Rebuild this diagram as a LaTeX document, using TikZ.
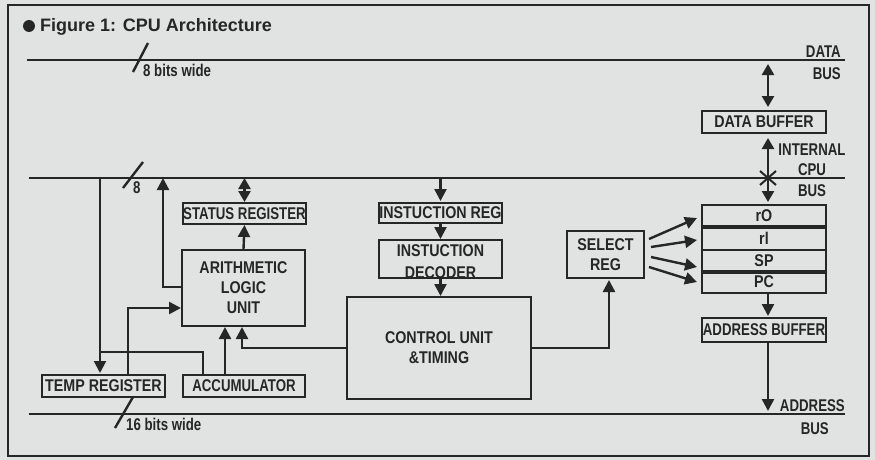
\documentclass[tikz,border=0pt]{standalone}
\usepackage{fontspec}
\setmainfont{Liberation Sans}
\newfontfamily\condfont[FakeStretch=0.84]{Liberation Sans}
\newfontfamily\tightfont[FakeStretch=0.78]{Liberation Sans}
\usetikzlibrary{arrows.meta,calc}
\definecolor{bg}{HTML}{E0E3E1}
\definecolor{ink}{HTML}{262626}
\tikzset{
  box/.style={draw=ink, line width=2pt, inner sep=0pt, text=ink, font=\condfont\bfseries\fontsize{17}{20}\selectfont, align=center},
  tightbox/.style={box, font=\tightfont\bfseries\fontsize{17}{20}\selectfont},
  bus/.style={draw=ink, line width=2pt},
  wire/.style={draw=ink, line width=2.4pt},
  arr/.style={wire, -{Triangle[length=12pt,width=12pt]}},
  darr/.style={wire, {Triangle[length=11pt,width=12pt]}-{Triangle[length=11pt,width=12pt]}},
  buslabel/.style={text=ink, font=\tightfont\bfseries\fontsize{17}{20}\selectfont, inner sep=0pt},
  widthlabel/.style={text=ink, font=\tightfont\bfseries\fontsize{17}{20}\selectfont, inner sep=0pt, anchor=base west},
}
\begin{document}
\begin{tikzpicture}[x=1pt,y=-1pt]
\fill[bg] (0,0) rectangle (875,460);
\useasboundingbox (0,0) rectangle (875,460);
\draw[ink, line width=2.5pt] (8,5) rectangle (869,456);
\fill[ink] (29,26) circle (6);
\node[anchor=base west, inner sep=0, text=ink, font=\bfseries\fontsize{18}{20}\selectfont] (title) at (40,32) {Figure 1: CPU Architecture};

% buses
\coordinate (dbL) at (27,60); \coordinate (dbR) at (845,60);
\coordinate (ibL) at (29,177.5); \coordinate (ibR) at (845,177.5);
\coordinate (abL) at (29,414); \coordinate (abR) at (845,414);
\draw[bus] (dbL) -- (dbR);
\draw[bus] (ibL) -- (ibR);
\draw[bus] (abL) -- (abR);

% width slashes
\coordinate (s1a) at (148,43); \coordinate (s1b) at (133,72);
\coordinate (s2a) at (143,162); \coordinate (s2b) at (123,188);
\coordinate (s3a) at (133,397); \coordinate (s3b) at (115,428);
\draw[wire] (s1a) -- (s1b);
\draw[wire] (s2a) -- (s2b);
\draw[wire] (s3a) -- (s3b);
\node[widthlabel] (w1) at (143,77) {8 bits wide};
\node[widthlabel] (w2) at (133,193) {8};
\node[widthlabel] (w3) at (126,430) {16 bits wide};

% bus labels
\node[buslabel, anchor=base east] (dataL) at (841,57) {DATA};
\node[buslabel, anchor=base east] (dataB) at (841,80) {BUS};
\node[buslabel, anchor=base] (intI) at (812,155) {INTERNAL};
\node[buslabel, anchor=base] (intC) at (812,175) {CPU};
\node[buslabel, anchor=base] (intB) at (812,196) {BUS};
\node[buslabel, anchor=base east] (addrA) at (845,411) {ADDRESS};
\node[buslabel, anchor=base east] (addrB) at (829,434) {BUS};

% blocks
\node[box, minimum width=124, minimum height=22] (databuf) at (764,122) {DATA BUFFER};
\node[box, minimum width=124, minimum height=21] (r0) at (764,215.5) {rO};
\node[box, minimum width=124, minimum height=24] (r1) at (764,238) {rl};
\node[box, minimum width=124, minimum height=21] (sp) at (764,260.5) {SP};
\node[box, minimum width=124, minimum height=22] (pc) at (764,282) {PC};
\draw[ink, line width=4pt] (r0.south west) -- (r0.south east);
\draw[ink, line width=4pt] (sp.south west) -- (sp.south east);
\node[tightbox, minimum width=124, minimum height=24] (addrbuf) at (764,330) {ADDRESS BUFFER};
\node[box, minimum width=77, minimum height=47] (selreg) at (605.5,254.5) {SELECT\\REG};
\node[box, minimum width=123, minimum height=20] (instreg) at (440.5,213) {INSTUCTION REG};
\node[text=ink, inner sep=0pt, align=center, font=\condfont\bfseries\fontsize{17}{22}\selectfont] (instdect) at (440.5,262) {INSTUCTION\\DECODER};
\node[box, minimum width=123, minimum height=38] (instdec) at (440.5,259) {};
\node[tightbox, minimum width=123, minimum height=21] (status) at (244.5,213.5) {STATUS REGISTER};
\node[box, minimum width=123, minimum height=76] (alu) at (243.5,288) {ARITHMETIC\\LOGIC\\UNIT};
\node[box, minimum width=123, minimum height=22] (temp) at (103.5,386) {TEMP REGISTER};
\node[tightbox, minimum width=122, minimum height=22] (acc) at (244,386) {ACCUMULATOR};
\node[box, minimum width=184, minimum height=102] (ctrl) at (439,348) {CONTROL UNIT\\\&TIMING};

% data path right
\coordinate (vx) at (768,0);
\coordinate (dbtap) at (768,61);
\draw[darr, shorten <=3pt, shorten >=3pt] (dbtap) -- (databuf.north -| vx);
\draw[darr, shorten <=4pt, shorten >=2pt] (databuf.south -| vx) -- (r0.north -| vx);
\coordinate (xc) at (768,178);
\draw[ink, line width=2pt] ($(xc)+(-8,-7)$) -- ($(xc)+(8,7)$);
\draw[ink, line width=2pt] ($(xc)+(-8,7)$) -- ($(xc)+(8,-7)$);
\draw[arr, shorten >=1pt] (pc.south -| vx) -- (addrbuf.north -| vx);
\coordinate (abtap) at (768,411);
\draw[arr] (addrbuf.south -| vx) -- (abtap);

% select reg arrows
\draw[arr] ($(selreg.east)+(4,-15.5)$) -- ($(r0.west)+(-4,2.5)$);
\draw[arr] ($(selreg.east)+(6,-7.5)$) -- ($(r1.west)+(-4,2)$);
\draw[arr] ($(selreg.east)+(6,2.5)$) -- ($(sp.west)+(-4,6.5)$);
\draw[arr] ($(selreg.east)+(4,12.5)$) -- ($(pc.west)+(-4,0)$);

% instruction path
\coordinate (ibI) at (440.5,178);
\draw[arr, shorten >=1pt] (ibI) -- (instreg.north);
\draw[arr] (instreg.south) -- (instdec.north);
\draw[arr] (instdec.south) -- (instdec.south |- ctrl.north);

% control outputs
\coordinate (sx) at (609,0);
\draw[arr, shorten >=1pt] (ctrl.east) -| (selreg.south -| sx);
\coordinate (cx) at (242,0);
\draw[arr] (ctrl.west) -| (alu.south -| cx);

% ALU side
\coordinate (ax) at (225,0);
\draw[arr] (acc.north -| ax) -- (alu.south -| ax);
\coordinate (j1) at (100,352);
\coordinate (bx) at (203,0);
\draw[wire, line width=2pt] (acc.north -| bx) |- (j1);
\coordinate (ibL2) at (100,177);
\draw[arr, line width=2pt, shorten >=1pt] (ibL2) -- (temp.north -| ibL2);
\coordinate (tc) at (128,308);
\draw[arr] (temp.north -| tc) |- (alu.west |- tc);
\coordinate (ad) at (163,287);
\coordinate (ibA) at (163,178);
\draw[arr] (alu.west |- ad) -| (ibA);
\coordinate (ibS) at (244.5,178);
\draw[darr] (ibS) -- (status.north);
\draw[arr] (alu.north) -- (status.south);
\end{tikzpicture}
\end{document}
